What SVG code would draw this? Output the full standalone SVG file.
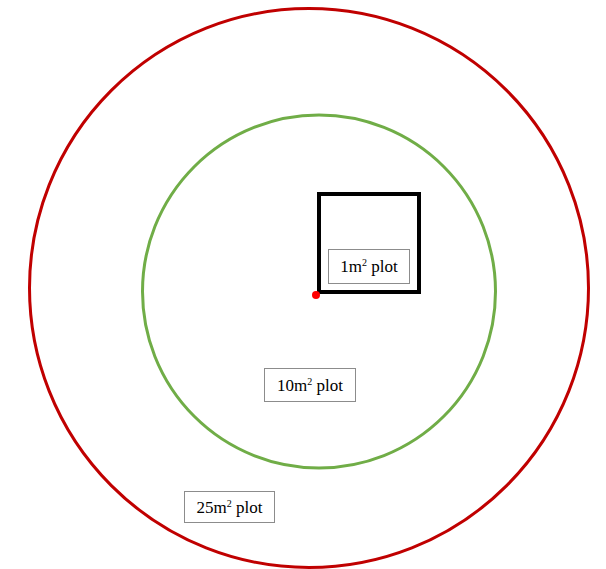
<svg xmlns="http://www.w3.org/2000/svg" width="606" height="569" viewBox="0 0 606 569">
<style>
.lbl{fill:#fff;stroke:#8c8c8c;stroke-width:1}
.t{font-family:"Liberation Serif",serif;font-size:17px;fill:#000;text-anchor:middle}
.sup{font-size:10px}
</style>
<rect width="606" height="569" fill="#fff"/>
<g id="plot25">
<circle cx="309" cy="288" r="279.5" fill="none" stroke="#c00000" stroke-width="3"/>
<rect class="lbl" x="184.5" y="491.5" width="90" height="31"/>
<text class="t" x="229.5" y="513">25m<tspan class="sup" dy="-6">2</tspan><tspan dy="6"> plot</tspan></text>
</g>
<g id="plot10">
<circle cx="319" cy="291.5" r="176.5" fill="none" stroke="#70ad47" stroke-width="3"/>
<rect class="lbl" x="264.5" y="368.5" width="91" height="33"/>
<text class="t" x="310" y="391">10m<tspan class="sup" dy="-6">2</tspan><tspan dy="6"> plot</tspan></text>
</g>
<g id="plot1">
<rect x="319" y="194" width="100" height="98" fill="none" stroke="#000" stroke-width="4"/>
<rect class="lbl" x="328.5" y="249.5" width="81" height="34"/>
<text class="t" x="369" y="272">1m<tspan class="sup" dy="-6">2</tspan><tspan dy="6"> plot</tspan></text>
</g>
<g id="center">
<circle cx="316" cy="295" r="4" fill="#ff0000"/>
</g>
<g id="connectors"/>
</svg>
